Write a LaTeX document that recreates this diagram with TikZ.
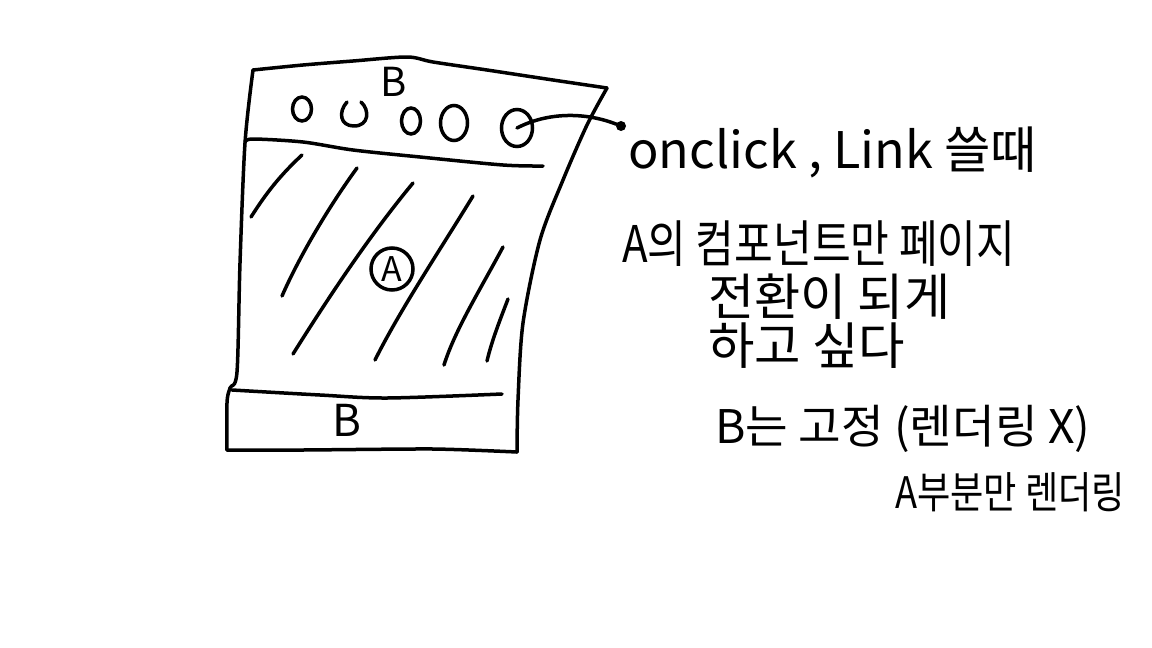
\documentclass[tikz,border=0pt]{standalone}
\usepackage{fontspec}
\setmainfont{Noto Sans CJK KR}
\usetikzlibrary{shapes.geometric}
\begin{document}
\begin{tikzpicture}[x=1pt,y=-1pt,
  pen/.style={draw=black, line width=3.5pt, line cap=round, line join=round},
  btn/.style={ellipse, draw=black, line width=3.5pt, inner sep=0pt},
  note/.style={anchor=base west, inner sep=0pt},
  lbl/.style={inner sep=0pt, font=\fontsize{40}{40}\selectfont}]
\useasboundingbox[fill=white] (0,0) rectangle (1152,648);

% outer frame
\draw[pen] plot[smooth, tension=0.5] coordinates {(253,70) (303,65) (353,61) (407,57) (433,62) (487,70) (553,80) (607,88)};
\draw[pen] plot[smooth, tension=0.5] coordinates {(607,88) (587,125) (563,180) (540,240) (523,323) (518,400) (517,452)};
\draw[pen] plot[smooth, tension=0.4] coordinates {(517,452) (433,449) (303,450) (227,450)};
\draw[pen] plot[smooth, tension=0.5] coordinates {(227,450) (227,403) (230,388) (237,372) (240,263) (245,143) (253,70)};

% header separator and footer separator
\draw[pen] plot[smooth, tension=0.5] coordinates {(245,142) (253,139) (303,142) (353,150) (420,157) (503,165) (543,166)};
\draw[pen] plot[smooth, tension=0.5] coordinates {(232,390) (320,395) (387,398) (502,394)};

% labels B
\node[lbl] (btop) at (394,82) {B};
\node[lbl, font=\fontsize{44}{44}\selectfont] (bbot) at (347,420) {B};

% header buttons
\node[btn, minimum width=19pt, minimum height=24pt] (b1) at (302,109) {};
\draw[pen] (347,102) .. controls (338,112) and (340,126) .. (354,126) .. controls (369,126) and (370,110) .. (361,102);
\node[btn, minimum width=19pt, minimum height=26pt] (b3) at (411,121) {};
\node[btn, minimum width=27pt, minimum height=35pt] (b4) at (454,123) {};
\node[btn, minimum width=31pt, minimum height=37pt] (b5) at (517,128) {};
\node[circle, fill=black, inner sep=0pt, minimum size=10pt] (dot) at (621,126) {};
\draw[pen] (b5.center) .. controls (548,112) and (585,112) .. (dot);

% hatching of area A
\draw[pen] (302,155) .. controls (275,180) and (262,200) .. (251,217);
\draw[pen] (357,168) .. controls (330,205) and (300,255) .. (282,296);
\draw[pen] (413,183) .. controls (370,235) and (330,295) .. (293,354);
\draw[pen] (473,196) .. controls (440,250) and (400,310) .. (375,360);
\draw[pen] (503,247) .. controls (480,290) and (455,330) .. (444,365);
\draw[pen] (508,299) .. controls (500,320) and (492,340) .. (487,361);

% A circle
\node[circle, draw=black, line width=3.5pt, minimum size=42pt, inner sep=0pt, fill=white,
      font=\fontsize{34}{34}\selectfont] (acirc) at (392,269) {A};

% notes
\node[note] (t1) at (628,168) {\resizebox{409pt}{!}{onclick , Link 쓸때}};
\node[note] (t2) at (622,262) {\scalebox{1}[1.2]{\resizebox{393pt}{!}{A의 컴포넌트만 페이지}}};
\node[note] (t3) at (708,315) {\resizebox{242pt}{!}{전환이 되게}};
\node[note] (t4) at (708,364) {\resizebox{197pt}{!}{하고 싶다}};
\node[note] (t5) at (715,443) {\resizebox{375pt}{!}{B는 고정 (렌더링 X)}};
\node[note] (t6) at (895,508) {\scalebox{1}[1.2]{\resizebox{230pt}{!}{A부분만 렌더링}}};
\end{tikzpicture}
\end{document}
